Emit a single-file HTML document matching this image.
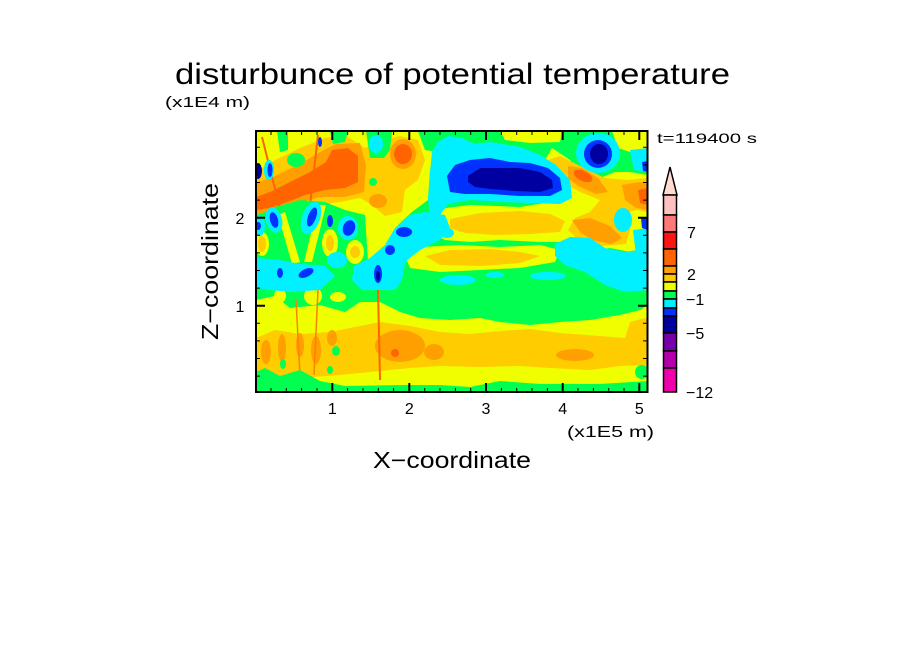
<!DOCTYPE html>
<html><head><meta charset="utf-8"><style>
html,body{margin:0;padding:0;background:#fff;}
svg{display:block;}
text{font-family:"Liberation Sans",sans-serif;fill:#000;}
</style></head><body>
<svg width="904" height="654" viewBox="0 0 904 654" xmlns="http://www.w3.org/2000/svg">
<defs><clipPath id="pc"><rect x="256" y="131" width="392" height="261"/></clipPath></defs>
<rect width="904" height="654" fill="#fff"/>
<g clip-path="url(#pc)" stroke="none">
<!-- base green -->
<rect x="256" y="131" width="392" height="261" fill="#00ff50"/>
<!-- YELLOW -->
<polygon fill="#f0ff00" points="256,131 432,131 440,148 430,170 428,200 412,212 398,225 390,245 378,258 350,262 320,258 290,262 256,262"/>
<polygon fill="#f0ff00" points="500,131 562,131 560,142 530,143 505,140"/>
<polygon fill="#f0ff00" points="612,131 648,131 648,150 630,152 618,148"/>
<polygon fill="#f0ff00" points="430,210 470,205 520,207 545,203 548,185 545,160 552,148 570,160 580,175 600,178 615,172 630,172 648,175 648,250 630,252 610,248 590,252 560,242 540,242 500,240 470,242 445,240 430,232"/>
<polygon fill="#f0ff00" points="405,256 420,247 460,245 500,247 540,245 560,250 555,262 520,268 480,270 440,272 410,268"/>
<polygon fill="#f0ff00" points="256,300 275,296 290,308 320,305 345,312 360,302 380,302 400,312 420,318 450,320 480,318 500,322 530,325 560,322 590,320 620,315 640,310 648,305 648,392 256,392"/>
<ellipse cx="280" cy="296" rx="6" ry="7" fill="#f0ff00"/>
<ellipse cx="313" cy="296" rx="9" ry="9" fill="#f0ff00"/>
<ellipse cx="338" cy="297" rx="8" ry="5" fill="#f0ff00"/>
<!-- GOLD -->
<polygon fill="#ffcc00" points="256,172 275,160 300,148 325,138 345,135 365,148 385,140 400,136 418,140 425,160 418,180 405,190 402,212 385,216 372,205 360,198 340,202 310,206 290,214 270,226 256,232"/>
<polygon fill="#ffcc00" points="450,219 480,213 520,211 550,214 565,221 560,232 530,234 495,235 465,233 450,228"/>
<polygon fill="#ffcc00" points="548,160 560,156 580,166 605,178 628,180 648,178 648,212 636,210 628,212 630,230 626,244 600,246 580,242 568,230 575,218 590,212 600,200 580,192 562,182 550,172"/>
<polygon fill="#ffcc00" points="425,256 450,250 490,249 520,252 540,256 520,263 480,266 440,265"/>
<polygon fill="#ffcc00" points="256,338 275,330 300,334 330,332 360,326 380,322 410,326 440,332 470,334 500,331 530,329 560,333 600,336 625,338 630,322 645,318 648,320 648,365 620,366 590,370 550,368 520,366 480,367 440,366 410,368 370,372 340,375 300,378 270,375 256,372"/>
<!-- ORANGE -->
<polygon fill="#ffa000" points="256,183 275,176 300,164 320,152 336,144 360,143 366,165 364,192 345,197 320,197 300,202 285,212 270,220 256,224"/>
<ellipse cx="403" cy="154" rx="13" ry="15" fill="#ffa000"/>
<ellipse cx="378" cy="201" rx="9" ry="7" fill="#ffa000"/>
<polygon fill="#ffa000" points="568,166 582,168 598,178 608,192 596,194 578,186 568,178"/>
<polygon fill="#ffa000" points="622,185 640,182 648,184 648,210 636,208 625,200"/>
<polygon fill="#ffa000" points="572,220 590,218 610,226 622,238 612,244 592,240 580,232"/>
<ellipse cx="400" cy="346" rx="25" ry="16" fill="#ffa000"/>
<ellipse cx="575" cy="355" rx="19" ry="6" fill="#ffa000"/>
<ellipse cx="266" cy="352" rx="5" ry="12" fill="#ffa000"/>
<ellipse cx="282" cy="348" rx="4" ry="14" fill="#ffa000"/>
<ellipse cx="300" cy="345" rx="4" ry="12" fill="#ffa000"/>
<ellipse cx="316" cy="350" rx="5" ry="14" fill="#ffa000"/>
<ellipse cx="332" cy="338" rx="5" ry="8" fill="#ffa000"/>
<ellipse cx="434" cy="352" rx="10" ry="8" fill="#ffa000"/>
<!-- ORANGE-RED -->
<polygon fill="#ff6400" points="256,197 270,192 290,182 310,172 326,162 332,150 348,148 358,156 358,182 345,188 325,190 305,195 285,203 270,208 256,210"/>
<ellipse cx="403" cy="154" rx="9" ry="10" fill="#ff6400"/>
<ellipse cx="583" cy="176" rx="10" ry="5" fill="#ff6400" transform="rotate(25 583 176)"/>
<polygon fill="#ff6400" points="638,190 648,188 648,205 640,203"/>
<ellipse cx="395" cy="353" rx="4" ry="4" fill="#ff6400"/>
<line x1="378" y1="290" x2="380" y2="380" stroke="#ff6400" stroke-width="2"/>
<line x1="296" y1="300" x2="300" y2="375" stroke="#ff8000" stroke-width="1.5"/>
<line x1="318" y1="290" x2="314" y2="375" stroke="#ff8000" stroke-width="1.5"/>
<line x1="262" y1="137" x2="282" y2="217" stroke="#ff6400" stroke-width="2"/>
<line x1="318" y1="135" x2="305" y2="250" stroke="#ff6400" stroke-width="2"/>
<!-- left top green patches -->
<polygon fill="#00ff50" points="277,131 288,131 288,150 280,152"/>
<polygon fill="#00ff50" points="330,131 348,131 345,142 333,144"/>
<polygon fill="#00ff50" points="366,131 392,131 390,150 384,158 370,158"/>
<ellipse cx="296" cy="160" rx="9" ry="7" fill="#00ff50"/>
<ellipse cx="373" cy="182" rx="4" ry="4" fill="#00ff50"/>
<polygon fill="#00ff50" points="418,131 440,131 438,152 425,150"/>
<!-- left lower mixed area -->
<polygon fill="#00ff50" points="256,215 265,212 272,208 300,200 325,202 345,210 365,215 368,262 360,266 340,268 300,268 256,266"/>
<polygon fill="#f0ff00" points="278,215 285,212 300,262 292,264"/>
<polygon fill="#f0ff00" points="318,205 326,205 312,262 304,262"/>
<ellipse cx="262" cy="244" rx="7" ry="12" fill="#f0ff00"/>
<ellipse cx="262" cy="244" rx="4" ry="8" fill="#ffcc00"/>
<ellipse cx="330" cy="243" rx="8" ry="14" fill="#f0ff00"/>
<ellipse cx="330" cy="243" rx="4" ry="8" fill="#ffcc00"/>
<ellipse cx="355" cy="252" rx="9" ry="12" fill="#f0ff00"/>
<ellipse cx="355" cy="252" rx="5" ry="6" fill="#ffcc00"/>
<!-- CYAN -->
<polygon fill="#00f0ff" points="438,142 448,136 462,138 475,144 490,142 520,147 540,155 556,165 570,180 572,198 560,204 530,203 500,202 470,200 448,204 440,215 442,226 432,226 428,200 430,172 432,152"/>
<polygon fill="#00f0ff" points="425,212 445,215 450,228 440,240 420,250 405,262 402,280 395,290 362,290 352,280 354,266 370,258 385,245 395,228 410,215"/>
<polygon fill="#00f0ff" points="256,258 280,260 300,264 325,266 335,276 320,290 290,292 270,290 256,288"/>
<ellipse cx="337" cy="260" rx="10" ry="8" fill="#00f0ff"/>
<ellipse cx="598" cy="153" rx="22" ry="20" fill="#00f0ff"/>
<ellipse cx="376" cy="144" rx="7" ry="9" fill="#00f0ff"/>
<polygon fill="#00f0ff" points="555,244 570,237 590,238 605,248 625,252 648,248 648,290 625,292 605,285 585,272 565,265 555,256"/>
<polygon fill="#00f0ff" points="633,230 648,228 648,257 636,255"/>
<ellipse cx="623" cy="220" rx="9" ry="12" fill="#00f0ff"/>
<ellipse cx="458" cy="280" rx="18" ry="5" fill="#00f0ff"/>
<ellipse cx="495" cy="275" rx="9" ry="3" fill="#00f0ff"/>
<ellipse cx="548" cy="276" rx="18" ry="4" fill="#00f0ff"/>
<ellipse cx="447" cy="233" rx="7" ry="5" fill="#00f0ff"/>
<polygon fill="#00f0ff" points="630,150 648,148 648,172 634,170"/>
<ellipse cx="563" cy="188" rx="4" ry="9" fill="#00f0ff"/>
<ellipse cx="260" cy="226" rx="5" ry="10" fill="#00f0ff"/>
<ellipse cx="274" cy="220" rx="8" ry="13" fill="#00f0ff" transform="rotate(-15 274 220)"/>
<ellipse cx="311" cy="218" rx="9" ry="17" fill="#00f0ff" transform="rotate(20 311 218)"/>
<ellipse cx="348" cy="228" rx="10" ry="12" fill="#00f0ff"/>
<ellipse cx="269" cy="170" rx="5" ry="10" fill="#00f0ff"/>
<!-- BLUE -->
<polygon fill="#0032ff" points="447,176 455,165 470,160 490,158 510,162 530,163 548,168 560,178 562,190 550,196 520,196 490,194 465,194 450,192"/>
<polygon fill="#0000a0" points="468,176 480,168 500,168 520,168 540,172 552,180 553,188 540,192 515,191 490,189 475,187 468,182"/>
<ellipse cx="598" cy="154" rx="14" ry="14" fill="#0032ff"/>
<ellipse cx="599" cy="154" rx="9" ry="10" fill="#0000a0"/>
<ellipse cx="258" cy="171" rx="4" ry="8" fill="#0000a0"/>
<ellipse cx="270" cy="170" rx="2.5" ry="7" fill="#0032ff"/>
<ellipse cx="274" cy="220" rx="4" ry="8" fill="#0032ff" transform="rotate(-15 274 220)"/>
<ellipse cx="312" cy="217" rx="4" ry="10" fill="#0032ff" transform="rotate(20 312 217)"/>
<ellipse cx="330" cy="221" rx="3" ry="6" fill="#0032ff"/>
<ellipse cx="349" cy="228" rx="6" ry="8" fill="#0032ff" transform="rotate(20 349 228)"/>
<ellipse cx="404" cy="232" rx="8" ry="5" fill="#0032ff"/>
<ellipse cx="390" cy="250" rx="5" ry="5" fill="#0032ff"/>
<ellipse cx="280" cy="273" rx="3" ry="5" fill="#0032ff"/>
<ellipse cx="306" cy="273" rx="8" ry="4" fill="#0032ff" transform="rotate(-25 306 273)"/>
<ellipse cx="378" cy="274" rx="4" ry="9" fill="#0032ff"/>
<ellipse cx="378" cy="276" rx="2" ry="5" fill="#0000a0"/>
<ellipse cx="258" cy="226" rx="3" ry="4" fill="#0032ff"/>
<ellipse cx="320" cy="142" rx="2" ry="5" fill="#0032ff"/>
<polygon fill="#0032ff" points="642,162 648,161 648,172 643,171"/>
<polygon fill="#0032ff" points="641,218 648,217 648,230 642,228"/>
<!-- bottom green -->
<polygon fill="#00ff50" points="256,372 265,368 280,376 300,370 320,381 345,386 400,385 440,385 470,387 500,381 540,384 600,384 648,381 648,392 256,392"/>
<ellipse cx="642" cy="372" rx="7" ry="7" fill="#00ff50"/>
<ellipse cx="283" cy="364" rx="3" ry="5" fill="#00ff50"/>
<ellipse cx="330" cy="370" rx="3" ry="4" fill="#00ff50"/>
<ellipse cx="336" cy="351" rx="4" ry="5" fill="#00ff50"/>
</g>
<!-- frame -->
<rect x="256" y="131" width="391.5" height="261" fill="none" stroke="#000" stroke-width="2"/>
<g stroke="#000" stroke-width="1">
<path d="M271,392v-4M286.3,392v-4M301.6,392v-4M317,392v-4M347.6,392v-4M363,392v-4M378.3,392v-4M393.6,392v-4M424.7,392v-4M440,392v-4M455.4,392v-4M470.7,392v-4M501.4,392v-4M516.7,392v-4M532,392v-4M547.4,392v-4M578,392v-4M593.4,392v-4M608.7,392v-4M624,392v-4
M271,131v4M286.3,131v4M301.6,131v4M317,131v4M347.6,131v4M363,131v4M378.3,131v4M393.6,131v4M424.7,131v4M440,131v4M455.4,131v4M470.7,131v4M501.4,131v4M516.7,131v4M532,131v4M547.4,131v4M578,131v4M593.4,131v4M608.7,131v4M624,131v4
M256,376.1h4M256,358.5h4M256,340.9h4M256,323.3h4M256,288.1h4M256,270.5h4M256,252.9h4M256,235.3h4M256,200.1h4M256,182.5h4M256,164.9h4M256,147.3h4
M647,376.1h-4M647,358.5h-4M647,340.9h-4M647,323.3h-4M647,288.1h-4M647,270.5h-4M647,252.9h-4M647,235.3h-4M647,200.1h-4M647,182.5h-4M647,164.9h-4M647,147.3h-4"/>
</g>
<g stroke="#000" stroke-width="2">
<path d="M332.3,392v-9M409.3,392v-9M486,392v-9M562.7,392v-9M639.3,392v-9M332.3,131v9M409.3,131v9M486,131v9M562.7,131v9M639.3,131v9M256,305.7h9M256,217.7h9M647,305.7h-9M647,217.7h-9"/>
</g>
<!-- texts -->
<text x="175" y="84" font-size="30" textLength="555" lengthAdjust="spacingAndGlyphs">disturbunce of potential temperature</text>
<text x="165" y="107" font-size="15" textLength="85" lengthAdjust="spacingAndGlyphs">(x1E4 m)</text>
<text x="657" y="143" font-size="14" textLength="100" lengthAdjust="spacingAndGlyphs">t=119400 s</text>
<g font-size="16" text-anchor="middle">
<text x="332.3" y="414">1</text>
<text x="409.3" y="414">2</text>
<text x="486" y="414">3</text>
<text x="562.7" y="414">4</text>
<text x="639.3" y="414">5</text>
<text x="240" y="224">2</text>
<text x="240" y="312">1</text>
</g>
<text x="567" y="437" font-size="16" textLength="87" lengthAdjust="spacingAndGlyphs">(x1E5 m)</text>
<text x="373" y="468" font-size="23" textLength="158" lengthAdjust="spacingAndGlyphs">X−coordinate</text>
<text transform="translate(218,340) rotate(-90)" x="0" y="0" font-size="23" textLength="157" lengthAdjust="spacingAndGlyphs">Z−coordinate</text>
<!-- colorbar -->
<g stroke="#000" stroke-width="1.5">
<polygon points="670,167 677,195 663,195" fill="#ffdcd2"/>
<rect x="663.5" y="195" width="13" height="20" fill="#ffc0c0"/>
<rect x="663.5" y="215" width="13" height="17" fill="#ff7878"/>
<rect x="663.5" y="232" width="13" height="17" fill="#ff1414"/>
<rect x="663.5" y="249" width="13" height="17" fill="#ff6400"/>
<rect x="663.5" y="266" width="13" height="8" fill="#ffa000"/>
<rect x="663.5" y="274" width="13" height="8" fill="#ffc800"/>
<rect x="663.5" y="282" width="13" height="9" fill="#f0ff00"/>
<rect x="663.5" y="291" width="13" height="8" fill="#00ff50"/>
<rect x="663.5" y="299" width="13" height="9" fill="#00f0ff"/>
<rect x="663.5" y="308" width="13" height="8" fill="#0032ff"/>
<rect x="663.5" y="316" width="13" height="17" fill="#0000a0"/>
<rect x="663.5" y="333" width="13" height="18" fill="#7800aa"/>
<rect x="663.5" y="351" width="13" height="17" fill="#b400aa"/>
<rect x="663.5" y="368" width="13" height="24" fill="#f000aa"/>
</g>
<g font-size="16">
<text x="687" y="238">7</text>
<text x="687" y="280">2</text>
<text x="686" y="305">−1</text>
<text x="686" y="339">−5</text>
<text x="686" y="398">−12</text>
</g>
</svg>
</body></html>
